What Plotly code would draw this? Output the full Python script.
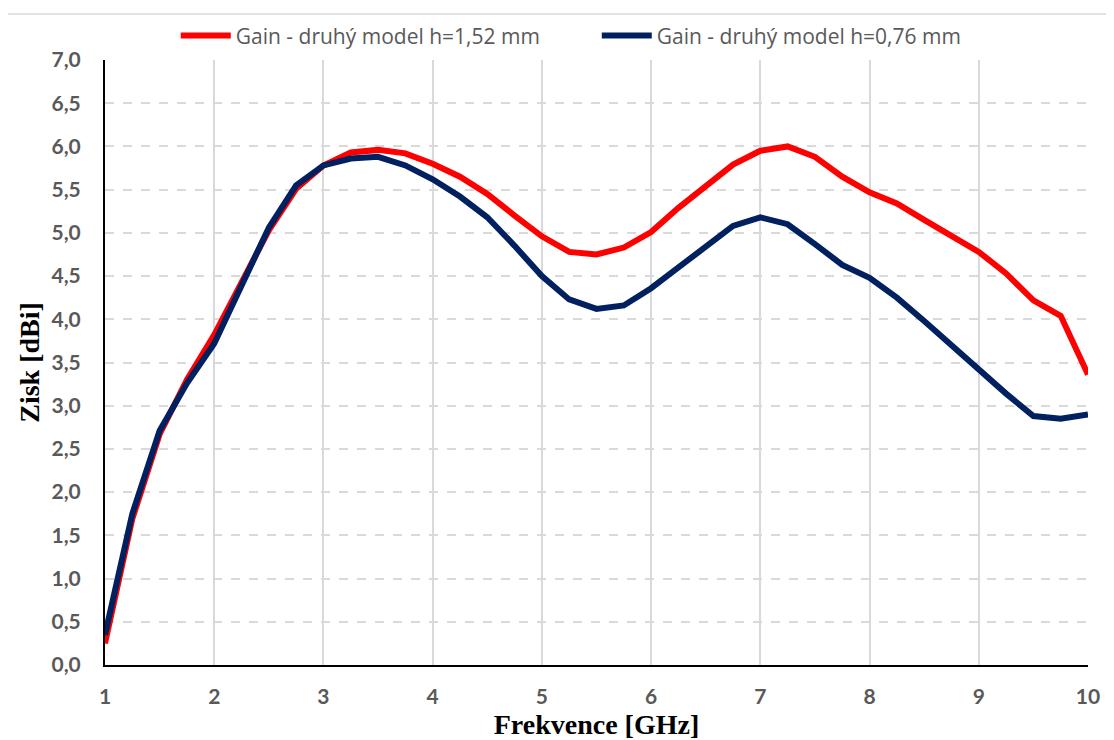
import plotly.graph_objects as go

freq = [1, 1.25, 1.5, 1.75, 2, 2.25, 2.5, 2.75, 3, 3.25, 3.5, 3.75, 4, 4.25, 4.5, 4.75,
        5, 5.25, 5.5, 5.75, 6, 6.25, 6.5, 6.75, 7, 7.25, 7.5, 7.75, 8, 8.25, 8.5, 8.75,
        9, 9.25, 9.5, 9.75, 10]

gain_152 = [0.25, 1.69, 2.67, 3.30, 3.82, 4.44, 5.03, 5.51, 5.78, 5.93, 5.96, 5.92, 5.80, 5.65, 5.45, 5.20,
            4.96, 4.78, 4.75, 4.83, 5.01, 5.29, 5.55, 5.79, 5.95, 6.00, 5.88, 5.65, 5.47, 5.34, 5.15, 4.96,
            4.78, 4.53, 4.22, 4.04, 3.36]

gain_076 = [0.35, 1.75, 2.71, 3.26, 3.72, 4.40, 5.06, 5.55, 5.78, 5.86, 5.88, 5.78, 5.62, 5.42, 5.18, 4.85,
            4.50, 4.23, 4.12, 4.16, 4.36, 4.60, 4.84, 5.08, 5.18, 5.10, 4.87, 4.63, 4.48, 4.25, 3.98, 3.70,
            3.41, 3.14, 2.88, 2.85, 2.90]

y_ticks = [i * 0.5 for i in range(15)]
y_labels = [f"{v:.1f}".replace(".", ",") for v in y_ticks]
x_ticks = list(range(1, 11))

tick_font = dict(family="Lato", size=21, color="#595959", weight="bold")
title_font = dict(family="Liberation Serif", size=28, color="black")

fig = go.Figure()
fig.add_trace(go.Scatter(x=freq, y=gain_152, mode="lines", name="Gain - druhý model h=1,52 mm",
                         line=dict(color="#ff0000", width=6)))
fig.add_trace(go.Scatter(x=freq, y=gain_076, mode="lines", name="Gain - druhý model h=0,76 mm",
                         line=dict(color="#002060", width=6)))

# page body has an 8px margin, so the figure is a bit smaller and shifted
fig.update_layout(
    width=1106, height=732,
    margin=dict(l=97, r=26, t=52, b=75, autoexpand=False),
    plot_bgcolor="white", paper_bgcolor="white",
    showlegend=True,
    legend=dict(orientation="h", x=0.072, y=1.04, xanchor="left", yanchor="middle",
                font=dict(family="Open Sans", size=21, color="#595959"),
                itemwidth=50, entrywidth=356, bgcolor="rgba(0,0,0,0)"),
    shapes=[dict(type="rect", xref="paper", yref="paper", x0=-0.1027, x1=1.0224, y0=-0.2, y1=1.076,
                 line=dict(color="#d9d9d9", width=1.5), layer="below")],
)

fig.update_xaxes(
    range=[1, 10], tickvals=x_ticks, ticktext=[str(v) for v in x_ticks],
    showgrid=True, gridcolor="#d9d9d9", gridwidth=1.5,
    showline=True, linecolor="black", linewidth=2,
    ticks="", tickfont=tick_font, ticklabelstandoff=12, automargin=False,
    title=dict(text="<b>Frekvence [GHz]</b>", font=title_font, standoff=8),
    zeroline=False,
)
fig.update_yaxes(
    range=[0, 7], tickvals=y_ticks, ticktext=y_labels,
    showgrid=True, gridcolor="#d9d9d9", gridwidth=1.5, griddash="dash",
    showline=True, linecolor="black", linewidth=2,
    ticks="", tickfont=tick_font, ticklabelstandoff=18, automargin=False,
    title=dict(text="<b>Zisk [dBi]</b>", font=title_font, standoff=4),
    zeroline=False,
)

fig.write_html("out.html")
